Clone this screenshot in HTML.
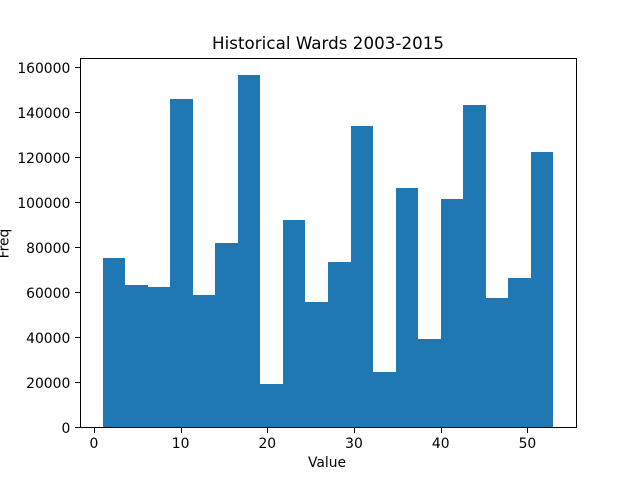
<!DOCTYPE html>
<html lang="en">
<head>
<meta charset="utf-8">
<title>Historical Wards 2003-2015</title>
<style>
html,body{margin:0;padding:0;background:#fff;width:640px;height:480px;overflow:hidden}
svg{display:block}
text{font-family:"DejaVu Sans","Liberation Sans",sans-serif;fill:#000}
</style>
</head>
<body>
<svg id="chart" xmlns="http://www.w3.org/2000/svg" width="640" height="480" viewBox="0 0 640 480">
<rect x="0" y="0" width="640" height="480" fill="#fff"/>
<text x="328" y="49" text-anchor="middle" font-size="16.67" textLength="232" lengthAdjust="spacing">Historical Wards 2003-2015</text>
<text x="327" y="467" text-anchor="middle" font-size="13.89">Value</text>
<text transform="translate(8.5,243.5) rotate(-90)" text-anchor="middle" font-size="13.89">Freq</text>
<g id="bars"></g>
<g id="ticks"></g>
<rect x="80.5" y="58.5" width="496" height="369" fill="none" stroke="#000" stroke-width="1" shape-rendering="crispEdges"/>
</svg>
<script>
var binEdges = [1, 3.6, 6.2, 8.8, 11.4, 14, 16.6, 19.2, 21.8, 24.4, 27, 29.6, 32.2, 34.8, 37.4, 40, 42.6, 45.2, 47.8, 50.4, 53];
var frequencies = [75200, 63200, 62300, 146000, 58800, 82000, 156500, 19000, 92000, 55500, 73500, 134000, 24500, 106300, 39000, 101500, 143300, 57500, 66400, 122400];
var xTickValues = [0, 10, 20, 30, 40, 50];
var yTickValues = [0, 20000, 40000, 60000, 80000, 100000, 120000, 140000, 160000];

var SVG_NS = 'http://www.w3.org/2000/svg';
var plotLeft = 80, plotRight = 576, plotTop = 57.6, plotBottom = 427.2;
var edgeMin = Math.min.apply(null, binEdges);
var edgeMax = Math.max.apply(null, binEdges);
var xMargin = (edgeMax - edgeMin) * 0.05;
var yLimit = Math.max.apply(null, frequencies) * 1.05;

function xScale(v) {
  return plotLeft + (v - (edgeMin - xMargin)) / ((edgeMax - edgeMin) + 2 * xMargin) * (plotRight - plotLeft);
}
function yScale(v) {
  return plotBottom - v / yLimit * (plotBottom - plotTop);
}

var barsGroup = document.getElementById('bars');
var ticksGroup = document.getElementById('ticks');

frequencies.forEach(function (f, i) {
  var x0 = Math.round(xScale(binEdges[i]));
  var x1 = Math.round(xScale(binEdges[i + 1]));
  var y0 = Math.round(yScale(f));
  var y1 = Math.round(yScale(0));
  var r = document.createElementNS(SVG_NS, 'rect');
  r.setAttribute('x', x0);
  r.setAttribute('y', y0);
  r.setAttribute('width', x1 - x0);
  r.setAttribute('height', y1 - y0);
  r.setAttribute('fill', '#1f77b4');
  r.setAttribute('shape-rendering', 'crispEdges');
  
  
  barsGroup.appendChild(r);
});

xTickValues.forEach(function (v) {
  var px = Math.round(xScale(v));
  var m = document.createElementNS(SVG_NS, 'rect');
  m.setAttribute('x', px);
  m.setAttribute('y', 428);
  m.setAttribute('width', 1);
  m.setAttribute('height', 5);
  m.setAttribute('fill', '#000');
  m.setAttribute('shape-rendering', 'crispEdges');
  
  
  ticksGroup.appendChild(m);
  var t = document.createElementNS(SVG_NS, 'text');
  t.setAttribute('x', xScale(v));
  t.setAttribute('y', 448);
  t.setAttribute('text-anchor', 'middle');
  t.setAttribute('font-size', '13.89');
  
  
  t.textContent = String(v);
  ticksGroup.appendChild(t);
});

yTickValues.forEach(function (v) {
  var py = Math.round(yScale(v));
  var m = document.createElementNS(SVG_NS, 'rect');
  m.setAttribute('x', 75);
  m.setAttribute('y', py);
  m.setAttribute('width', 5);
  m.setAttribute('height', 1);
  m.setAttribute('fill', '#000');
  m.setAttribute('shape-rendering', 'crispEdges');
  
  
  ticksGroup.appendChild(m);
  var t = document.createElementNS(SVG_NS, 'text');
  t.setAttribute('x', 70.3);
  t.setAttribute('y', py + 6);
  t.setAttribute('text-anchor', 'end');
  t.setAttribute('font-size', '13.89');
  
  
  t.textContent = String(v);
  ticksGroup.appendChild(t);
});
</script>
</body>
</html>
